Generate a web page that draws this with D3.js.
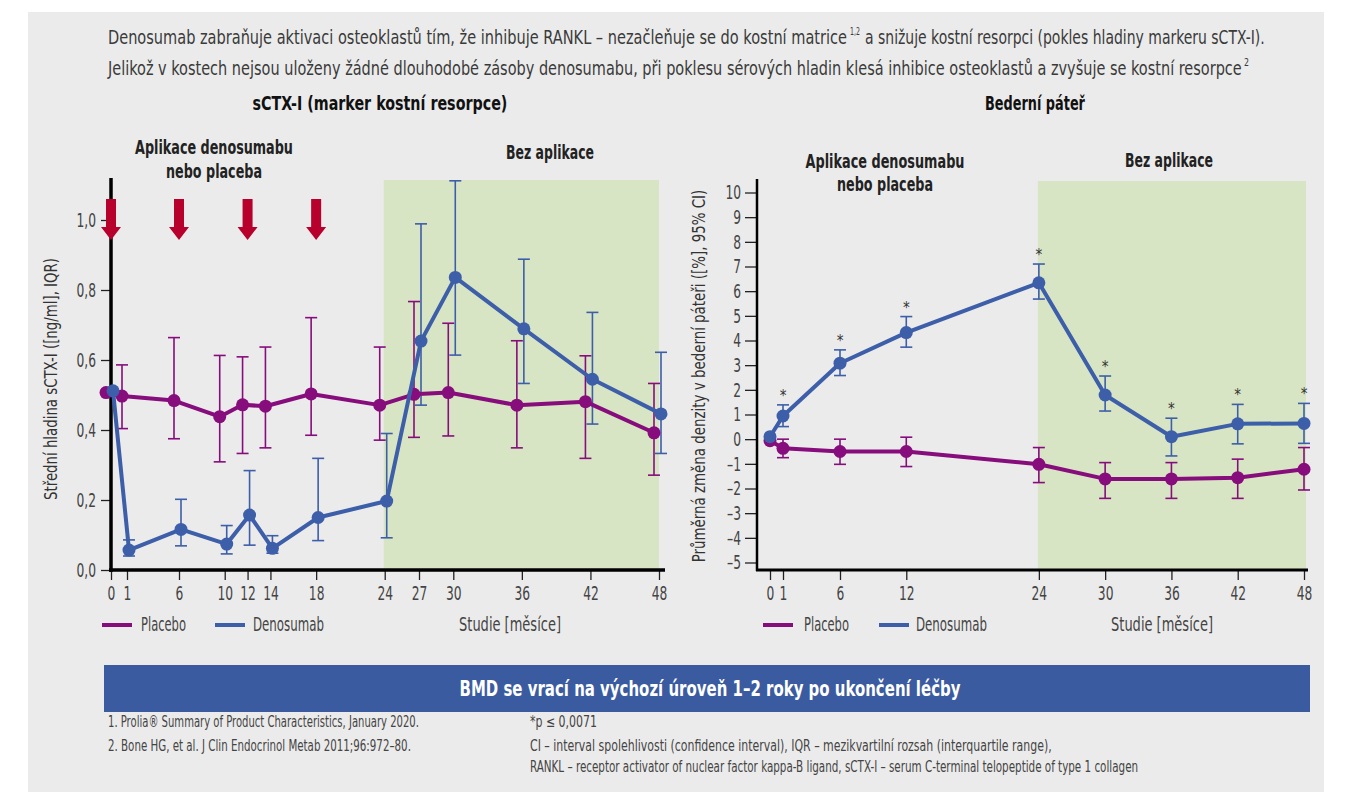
<!DOCTYPE html>
<html><head><meta charset="utf-8">
<script src="https://cdn.jsdelivr.net/npm/d3@7"></script>
<style>
body{margin:0;background:#fff;}
svg{display:block;}
text{font-family:"Liberation Sans Narrow","DejaVu Sans Condensed","Arial Narrow",sans-serif;}
</style></head>
<body><svg id="c" width="1345" height="800"></svg>
<script>
// ---------- DATA ----------
const monthsL = [0,1,6,10,12,14,18,24,27,30,36,42,48];
const placeboL   = [0.507,0.497,0.484,0.438,0.472,0.468,0.503,0.471,0.502,0.507,0.471,0.481,0.392];
const placeboLlo = [null,0.404,0.375,0.309,0.333,0.349,0.385,0.371,0.379,0.383,0.349,0.319,0.271];
const placeboLhi = [null,0.586,0.664,0.613,0.609,0.637,0.721,0.637,0.767,0.705,0.655,0.612,0.533];
const denoL   = [0.512,0.057,0.116,0.074,0.157,0.062,0.150,0.197,0.654,0.836,0.689,0.545,0.446];
const denoLlo = [null,0.040,0.069,0.046,0.071,0.048,0.084,0.092,0.471,0.614,0.533,0.417,0.333];
const denoLhi = [null,0.086,0.202,0.127,0.284,0.098,0.319,0.390,0.989,1.112,0.888,0.736,0.622];
const yTicksL = [0,0.2,0.4,0.6,0.8,1.0];
const injectionMonths = [0,6,12,18];

const monthsR = [0,1,6,12,24,30,36,42,48];
const placeboR   = [-0.06,-0.37,-0.50,-0.50,-1.02,-1.61,-1.61,-1.56,-1.22];
const placeboRlo = [null,-0.75,-1.02,-1.11,-1.76,-2.40,-2.40,-2.40,-2.06];
const placeboRhi = [null,0.00,0.00,0.08,-0.34,-0.95,-0.95,-0.81,-0.34];
const denoR   = [0.10,0.94,3.08,4.32,6.34,1.79,0.10,0.62,0.64];
const denoRlo = [null,0.51,2.58,3.73,5.68,1.14,-0.68,-0.19,-0.17];
const denoRhi = [null,1.39,3.62,4.97,7.10,2.56,0.85,1.41,1.45];
const signifR = [false,true,true,true,true,true,true,true,true];
const yTicksR = [-5,-4,-3,-2,-1,0,1,2,3,4,5,6,7,8,9,10];

const colPlacebo = "#870c7c";
const colDeno = "#3d5ea9";
const colGreen = "#d8e5c4";
const colText = "#3a3a3a";

// ---------- helpers ----------
const svg = d3.select("#c");
// draw text at natural size, then compress horizontally to the target width (narrow-font look)
function txt(g, x, y, s, size, w, opts={}){
  const t = g.append("text").attr("x",0).attr("y",0).style("font-size",size+"px")
    .attr("fill",opts.fill||colText).attr("text-anchor",opts.anchor||"start").text(s);
  if(opts.bold) t.attr("font-weight","bold");
  const L = t.node().getComputedTextLength();
  const k = w ? w/L : 1;
  const pre = opts.pre ? opts.pre+" " : "";
  t.attr("transform", `${pre}translate(${x},${y}) scale(${k},1)`);
  return t;
}

svg.append("rect").attr("x",28).attr("y",12).attr("width",1296).attr("height",780).attr("fill","#ebebeb");

// header
const hdr = svg.append("g");
txt(hdr,108,44,"Denosumab zabraňuje aktivaci osteoklastů tím, že inhibuje RANKL – nezačleňuje se do kostní matrice",19,740);
txt(hdr,850,35,"1,2",10,10);
txt(hdr,865,44,"a snižuje kostní resorpci (pokles hladiny markeru sCTX-I).",19,400);
txt(hdr,108,75,"Jelikož v kostech nejsou uloženy žádné dlouhodobé zásoby denosumabu, při poklesu sérových hladin klesá inhibice osteoklastů a zvyšuje se kostní resorpce",19,1134);
txt(hdr,1244,66,"2",10,5);

function errorBars(g, xs, lo, hi, x, y, color, dx){
  const cap = 6;
  xs.forEach((m,i)=>{
    if(lo[i]==null) return;
    const cx = x(m)+dx;
    g.append("line").attr("x1",cx).attr("x2",cx).attr("y1",y(lo[i])).attr("y2",y(hi[i])).attr("stroke",color).attr("stroke-width",1.6);
    g.append("line").attr("x1",cx-cap).attr("x2",cx+cap).attr("y1",y(lo[i])).attr("y2",y(lo[i])).attr("stroke",color).attr("stroke-width",1.6);
    g.append("line").attr("x1",cx-cap).attr("x2",cx+cap).attr("y1",y(hi[i])).attr("y2",y(hi[i])).attr("stroke",color).attr("stroke-width",1.6);
  });
}
function series(g, xs, vals, x, y, color, dx){
  const line = d3.line().x((d,i)=>x(xs[i])+dx).y(d=>y(d));
  g.append("path").attr("d",line(vals)).attr("fill","none").attr("stroke",color).attr("stroke-width",4).attr("stroke-linejoin","round");
  g.selectAll(null).data(vals).enter().append("circle")
    .attr("cx",(d,i)=>x(xs[i])+dx).attr("cy",d=>y(d)).attr("r",6.5).attr("fill",color);
}
function legend(g, x1, x2, label, color, w){
  g.append("line").attr("x1",x1).attr("x2",x1+30).attr("y1",625).attr("y2",625).attr("stroke",color).attr("stroke-width",4);
  txt(g,x2,631,label,19,w,{fill:"#444"});
}
function styleAxis(ga){
  ga.select(".domain").remove();
  ga.selectAll("line").attr("stroke","#222").attr("stroke-width",1.3);
  ga.selectAll("text").style("font-size","20px").attr("fill","#444").attr("class","tick-label");
}

// ---------- LEFT CHART ----------
const xL = d3.scaleLinear().domain([0,1,6,48]).range([111,127,179,659]);
const yL = d3.scaleLinear().domain([0,1.0]).range([570,220]);
const gL = svg.append("g");
gL.append("rect").attr("x",xL(24)-1).attr("y",180).attr("width",xL(48)-xL(24)+1).attr("height",570-180).attr("fill",colGreen);

txt(gL,380,110,"sCTX-I (marker kostní resorpce)",19,255,{anchor:"middle",bold:true,fill:"#111"});
txt(gL,214,154,"Aplikace denosumabu",19,158,{anchor:"middle",bold:true,fill:"#222"});
txt(gL,214,178,"nebo placeba",19,96,{anchor:"middle",bold:true,fill:"#222"});
txt(gL,550,159,"Bez aplikace",19,88,{anchor:"middle",bold:true,fill:"#222"});

const yAxL = d3.axisLeft(yL).tickValues(yTicksL).tickSize(10).tickPadding(5).tickFormat(d=>d3.format(".1f")(d).replace(".",","));
const gyL = gL.append("g").attr("transform","translate(111,0)").call(yAxL);
styleAxis(gyL);
gL.append("line").attr("x1",111).attr("x2",111).attr("y1",178).attr("y2",572).attr("stroke","#000").attr("stroke-width",3.5);

const xAxL = d3.axisBottom(xL).tickValues(monthsL).tickSize(10).tickPadding(6).tickFormat(d=>d);
const gxL = gL.append("g").attr("transform","translate(0,570)").call(xAxL);
styleAxis(gxL);
gL.append("line").attr("x1",109).attr("x2",665).attr("y1",570).attr("y2",570).attr("stroke","#000").attr("stroke-width",3.5);

txt(gL,0,0,"Střední hladina sCTX-I ([ng/ml], IQR)",17,242,{anchor:"middle",fill:"#333",pre:"translate(57,379) rotate(-90)"});

injectionMonths.forEach(m=>{
  const cx = xL(m);
  const p = d3.path();
  p.moveTo(cx-5,199); p.lineTo(cx+5,199); p.lineTo(cx+5,227); p.lineTo(cx+10,227);
  p.lineTo(cx,240); p.lineTo(cx-10,227); p.lineTo(cx-5,227); p.closePath();
  gL.append("path").attr("d",p.toString()).attr("fill","#b8002c");
});

errorBars(gL, monthsL, placeboLlo, placeboLhi, xL, yL, colPlacebo, -5);
errorBars(gL, monthsL, denoLlo, denoLhi, xL, yL, colDeno, 2);
series(gL, monthsL, placeboL, xL, yL, colPlacebo, -5);
series(gL, monthsL, denoL, xL, yL, colDeno, 2);

legend(gL,102,141,"Placebo",colPlacebo,45);
legend(gL,215,253,"Denosumab",colDeno,71);
txt(gL,510,631,"Studie [měsíce]",19,102,{anchor:"middle",fill:"#444"});

// ---------- RIGHT CHART ----------
const xR = d3.scaleLinear().domain([0,1,6,48]).range([770,783,840,1304]);
const yR = d3.scaleLinear().domain([-5,10]).range([562.5,192.5]);
const gR = svg.append("g");
gR.append("rect").attr("x",xR(24)-1).attr("y",181).attr("width",1306-xR(24)+1).attr("height",570-181).attr("fill",colGreen);

txt(gR,1035,110,"Bederní páteř",19,100,{anchor:"middle",bold:true,fill:"#111"});
txt(gR,885,168,"Aplikace denosumabu",19,159,{anchor:"middle",bold:true,fill:"#222"});
txt(gR,885,191,"nebo placeba",19,96,{anchor:"middle",bold:true,fill:"#222"});
txt(gR,1169,167,"Bez aplikace",19,88,{anchor:"middle",bold:true,fill:"#222"});

const yAxR = d3.axisLeft(yR).tickValues(yTicksR).tickSize(12).tickPadding(4).tickFormat(d=>d<0?"–"+Math.abs(d):d);
const gyR = gR.append("g").attr("transform","translate(757,0)").call(yAxR);
styleAxis(gyR);
gR.append("line").attr("x1",757).attr("x2",757).attr("y1",179).attr("y2",571).attr("stroke","#000").attr("stroke-width",2.5);

const xAxR = d3.axisBottom(xR).tickValues(monthsR).tickSize(10).tickPadding(6).tickFormat(d=>d);
const gxR = gR.append("g").attr("transform","translate(0,570)").call(xAxR);
styleAxis(gxR);
gR.append("line").attr("x1",756).attr("x2",1308).attr("y1",570).attr("y2",570).attr("stroke","#000").attr("stroke-width",3);

txt(gR,0,0,"Průměrná změna denzity v bederní páteři ([%], 95% CI)",17,373,{anchor:"middle",fill:"#333",pre:"translate(705,376) rotate(-90)"});

errorBars(gR, monthsR, placeboRlo, placeboRhi, xR, yR, colPlacebo, 0);
errorBars(gR, monthsR, denoRlo, denoRhi, xR, yR, colDeno, 0);
series(gR, monthsR, placeboR, xR, yR, colPlacebo, 0);
series(gR, monthsR, denoR, xR, yR, colDeno, 0);
monthsR.forEach((m,i)=>{
  if(!signifR[i]) return;
  gR.append("text").attr("x",xR(m)).attr("y",yR(denoRhi[i])-4).attr("text-anchor","middle").style("font-size","15px").attr("fill","#333").text("*");
});

legend(gR,763,804,"Placebo",colPlacebo,45);
legend(gR,879,916,"Denosumab",colDeno,71);
txt(gR,1162,631,"Studie [měsíce]",19,102,{anchor:"middle",fill:"#444"});

// ---------- BANNER & FOOTER ----------
svg.append("rect").attr("x",104).attr("y",665).attr("width",1206).attr("height",47).attr("fill","#3b5ba1");
txt(svg,710,696,"BMD se vrací na výchozí úroveň 1–2 roky po ukončení léčby",22,501,{anchor:"middle",bold:true,fill:"#fff"});

const ft = svg.append("g");
txt(ft,108,727,"1. Prolia® Summary of Product Characteristics, January 2020.",15,311,{fill:"#444"});
txt(ft,108,751,"2. Bone HG, et al. J Clin Endocrinol Metab 2011;96:972–80.",15,303,{fill:"#444"});
txt(ft,530,727,"*p ≤ 0,0071",15,67,{fill:"#444"});
txt(ft,530,751,"CI – interval spolehlivosti (confidence interval), IQR – mezikvartilní rozsah (interquartile range),",15,522,{fill:"#444"});
txt(ft,530,772,"RANKL – receptor activator of nuclear factor kappa-B ligand, sCTX-I – serum C-terminal telopeptide of type 1 collagen",15,609,{fill:"#444"});

// condense tick labels to a narrow look: target digit width ~7.8px
const probe = svg.append("text").style("font-size","20px").text("0000000000");
const digitW = probe.node().getComputedTextLength()/10;
probe.remove();
const kT = 7.8/digitW;
svg.selectAll("text.tick-label").each(function(){
  const t = d3.select(this);
  const x = +t.attr("x") || 0;
  t.attr("x",0).attr("transform",`translate(${x},0) scale(${kT},1)`);
});
</script></body></html>
